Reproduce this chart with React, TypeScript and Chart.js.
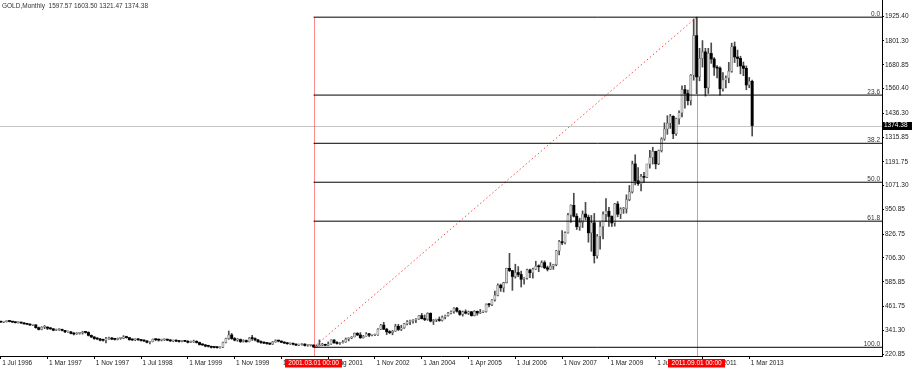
import React, { useEffect, useRef } from 'react';
import { Chart, registerables } from 'chart.js';

Chart.register(...registerables);

const symbolTitle = 'GOLD,Monthly  1597.57 1603.50 1321.47 1374.38';

// Bar 0 = Jul 1996. The history before Mar 2001 holds about two bars per month.
const firstOpen = 384;

const closes = [
  383, 385, 387, 386, 383, 380, 381, 378, 374, 372,
  368, 369, 355, 346, 357, 358, 352, 349, 342, 345,
  346, 341, 334, 334, 326, 323, 326, 328, 333, 331,
  316, 308, 300, 298, 292, 291, 300, 303, 297, 296,
  301, 301, 309, 305, 294, 293, 296, 294, 290, 288,
  281, 284, 296, 294, 292, 293, 295, 292, 288, 289,
  287, 285, 288, 286, 281, 283, 286, 280, 270, 268,
  262, 261, 256, 255, 254, 256, 280, 300, 318, 300,
  292, 295, 285, 290, 284, 302, 300, 293, 284, 280,
  277, 275, 272, 283, 290, 287, 281, 277, 274, 276,
  271, 267, 270, 272, 265, 266, 267,
  257.7, 263.2, 267, 270.6, 265.9, 273, 293, 279, 275, 279,
  282, 297, 302, 308, 326, 318, 304, 312, 324, 317,
  318, 318, 347, 368, 347, 334, 330, 337, 362, 346,
  354, 375, 385, 386, 392, 398, 416, 400, 396, 427,
  388, 394, 395, 391, 408, 416, 428, 436, 453, 438,
  422, 435, 428, 435, 416, 437, 429, 433, 436, 473,
  470, 495, 518, 569, 556, 582, 654, 643, 613, 633,
  623, 599, 604, 646, 632, 650, 665, 662, 683, 657,
  650, 665, 673, 743, 789, 783, 834, 923, 972, 917,
  864, 886, 928, 912, 833, 884, 718, 816, 865, 927,
  942, 916, 883, 979, 927, 954, 955, 1001, 1040, 1181,
  1096, 1081, 1118, 1113, 1180, 1213, 1244, 1181, 1248, 1307,
  1357, 1386, 1421, 1333, 1409, 1439, 1556, 1536, 1500, 1628,
  1828, 1620, 1713, 1746, 1565, 1738, 1710, 1669, 1664, 1560,
  1604, 1614, 1648, 1772, 1720, 1713, 1675, 1663, 1579, 1597.57, 1374.38,
];

const highs = [
  386, 387, 389, 390, 387, 385, 384, 383, 380, 377,
  374, 372, 370, 358, 360, 366, 359, 356, 351, 348,
  350, 348, 342, 338, 335, 330, 330, 331, 337, 336,
  334, 318, 310, 304, 301, 297, 306, 307, 305, 300,
  303, 305, 315, 312, 306, 298, 299, 298, 296, 292,
  290, 286, 298, 300, 298, 297, 299, 297, 295, 292,
  293, 290, 290, 291, 290, 288, 292, 289, 282, 273,
  270, 266, 262, 259, 259, 258, 282, 303, 338, 326,
  305, 300, 298, 294, 293, 305, 316, 304, 296, 288,
  283, 281, 278, 285, 294, 292, 289, 284, 280, 278,
  279, 274, 272, 275, 274, 269, 270,
  269, 268, 293, 276, 272, 283, 294, 294, 285, 281,
  290, 303, 304, 310, 328, 330, 330, 316, 330, 326,
  321, 323, 350, 372, 382, 352, 340, 341, 372, 372,
  367, 377, 391, 393, 396, 401, 417, 427, 419, 430,
  430, 396, 397, 409, 414, 419, 432, 440, 456, 457,
  443, 439, 445, 439, 437, 441, 439, 447, 440, 475,
  478, 497, 540, 576, 575, 584, 655, 730, 644, 675,
  663, 640, 607, 650, 650, 655, 690, 672, 692, 692,
  666, 683, 675, 745, 795, 845, 838, 931, 975, 1033,
  930, 907, 944, 987, 923, 921, 931, 825, 888, 939,
  1006, 962, 919, 982, 991, 960, 961, 1025, 1072, 1195,
  1227, 1162, 1128, 1139, 1180, 1249, 1265, 1245, 1251, 1313,
  1388, 1424, 1431, 1424, 1412, 1448, 1575, 1577, 1553, 1632,
  1912, 1920.94, 1764, 1803, 1764, 1764, 1791, 1717, 1677, 1670,
  1641, 1625, 1693, 1790, 1796, 1755, 1724, 1695, 1675, 1617, 1603.5,
];

const lows = [
  381, 380, 383, 384, 381, 378, 378, 376, 372, 370,
  366, 365, 352, 343, 344, 350, 345, 346, 339, 340,
  341, 339, 330, 331, 323, 318, 321, 322, 322, 327,
  313, 305, 296, 294, 288, 287, 278, 295, 294, 292,
  293, 296, 300, 302, 292, 290, 289, 290, 287, 284,
  278, 273, 283, 289, 287, 288, 290, 289, 285, 284,
  284, 282, 283, 284, 278, 279, 280, 277, 267, 265,
  258, 257, 252, 253, 252, 251, 254, 278, 296, 296,
  288, 286, 280, 282, 281, 283, 291, 288, 280, 276,
  274, 271, 269, 270, 281, 283, 279, 275, 271, 270,
  268, 264, 264, 266, 262, 261, 262,
  256, 255.95, 262, 264, 264, 265, 270, 276, 272, 271,
  277, 281, 288, 299, 308, 315, 301, 302, 312, 310,
  313, 315, 316, 345, 345, 320, 324, 319, 336, 340,
  340, 351, 369, 370, 378, 380, 396, 399, 390, 392,
  384, 371, 385, 387, 388, 399, 413, 424, 428, 433,
  417, 413, 424, 421, 413, 414, 418, 426, 430, 433,
  460, 466, 489, 515, 538, 535, 580, 637, 543, 605,
  612, 560, 574, 600, 607, 604, 648, 637, 660, 652,
  641, 648, 649, 667, 722, 774, 777, 832, 886, 913,
  850, 846, 860, 898, 786, 740, 681, 705, 751, 802,
  890, 866, 865, 867, 914, 905, 931, 933, 995, 1034,
  1075, 1072, 1045, 1088, 1111, 1160, 1180, 1156, 1177, 1241,
  1300, 1330, 1360, 1308, 1324, 1381, 1418, 1462, 1478, 1478,
  1603, 1535, 1600, 1669, 1523, 1536, 1688, 1627, 1614, 1527,
  1548, 1564, 1590, 1643, 1692, 1672, 1635, 1626, 1555, 1565, 1321.47,
];

const timeTickIndex = [0, 16, 32, 48, 64, 80, 96, 112, 128, 144, 160, 176, 192, 208, 224, 240, 256];
const timeTickLabels = [
  '1 Jul 1996', '1 Mar 1997', '1 Nov 1997', '1 Jul 1998', '1 Mar 1999', '1 Nov 1999', '1 Jul 2000',
  '1 Aug 2001', '1 Nov 2002', '1 Jan 2004', '1 Apr 2005', '1 Jul 2006', '1 Nov 2007', '1 Mar 2009',
  '1 Jul 2010', '1 Nov 2011', '1 Mar 2013',
];

const priceTicks = [
  1925.4, 1801.3, 1680.85, 1560.4, 1436.3, 1315.85, 1191.75, 1071.3,
  950.85, 826.75, 706.3, 585.85, 461.75, 341.3, 220.85,
];

const fibRatios = [0, 0.236, 0.382, 0.5, 0.618, 1];
const fibLabels = ['0.0', '23.6', '38.2', '50.0', '61.8', '100.0'];
const fibLowIndex = 107; // 2001.03.01
const fibHighIndex = 238; // 2011.09.01
const fibLow = 255.95;
const fibHigh = 1920.94;

const markerIndex = [107, 238];
const markerLabels = ['2001.03.01 00:00', '2011.09.01 00:00'];

const priceMin = 212.0;
const priceMax = 2007.6;
const indexMin = -0.24;
const indexMax = 301.4;

const FONT = 'Liberation Sans, Arial, sans-serif';

const overlayPlugin = {
  id: 'mtOverlay',
  beforeDatasetsDraw(chart: any) {
    const { ctx, chartArea, scales } = chart;
    const x = scales.x;
    const y = scales.y;
    ctx.save();
    const by = Math.round(y.getPixelForValue(closes[closes.length - 1])) + 0.5;
    ctx.strokeStyle = '#c4c4c4';
    ctx.lineWidth = 1;
    ctx.beginPath();
    ctx.moveTo(chartArea.left, by);
    ctx.lineTo(chartArea.right, by);
    ctx.stroke();
    const topY = y.getPixelForValue(fibHigh);
    ctx.strokeStyle = 'rgba(255,60,60,0.6)';
    markerIndex.forEach((mi) => {
      const px = Math.round(x.getPixelForValue(mi)) + 0.5;
      ctx.beginPath();
      ctx.moveTo(px, topY);
      ctx.lineTo(px, chartArea.bottom);
      ctx.stroke();
    });
    ctx.restore();
  },
  afterDatasetsDraw(chart: any) {
    const { ctx, chartArea, scales } = chart;
    const y = scales.y;
    ctx.save();
    ctx.font = `6.5px ${FONT}`;
    ctx.fillStyle = '#333';
    ctx.textAlign = 'right';
    ctx.textBaseline = 'alphabetic';
    fibRatios.forEach((r, i) => {
      const lv = fibHigh - r * (fibHigh - fibLow);
      const ly = y.getPixelForValue(lv);
      ctx.fillText(fibLabels[i], chartArea.right - 2, ly - 1.5);
    });
    ctx.textAlign = 'left';
    ctx.textBaseline = 'top';
    ctx.fillText(symbolTitle, 2, 3);
    ctx.restore();
  },
  afterDraw(chart: any) {
    const { ctx, chartArea, scales } = chart;
    const x = scales.x;
    const y = scales.y;
    ctx.save();
    ctx.font = `6.5px ${FONT}`;
    markerIndex.forEach((mi, i) => {
      const px = x.getPixelForValue(mi);
      ctx.fillStyle = '#ff0000';
      ctx.fillRect(Math.round(px - 28.5), chartArea.bottom + 3, 57, 8.5);
      ctx.fillStyle = '#ffffff';
      ctx.textAlign = 'center';
      ctx.textBaseline = 'middle';
      ctx.fillText(markerLabels[i], px, chartArea.bottom + 7.5);
    });
    const last = closes[closes.length - 1];
    const by = y.getPixelForValue(last);
    ctx.fillStyle = '#000';
    ctx.fillRect(chartArea.right + 1, Math.round(by - 4), 30, 8);
    ctx.fillStyle = '#fff';
    ctx.textAlign = 'left';
    ctx.textBaseline = 'middle';
    ctx.fillText(last.toFixed(2), chartArea.right + 2, by);
    ctx.restore();
  },
};

export default function App() {
  const ref = useRef<HTMLCanvasElement>(null);

  useEffect(() => {
    document.body.style.margin = '0';
    const canvas = ref.current;
    if (!canvas) return;

    const opens = closes.map((c, i) => (i === 0 ? firstOpen : closes[i - 1]));
    const idx = closes.map((_, i) => i);
    const bull = idx.map((i) => closes[i] >= opens[i]);

    const fibSets = fibRatios.map((r, i) => {
      const lv = fibHigh - r * (fibHigh - fibLow);
      return {
        type: 'line' as const,
        label: 'fib ' + fibLabels[i],
        data: [
          { x: fibLowIndex, y: lv },
          { x: indexMax, y: lv },
        ],
        borderColor: '#000',
        borderWidth: 1,
        pointRadius: 0,
        order: 0,
      };
    });

    const chart = new Chart(canvas, {
      type: 'bar',
      data: {
        datasets: [
          ...fibSets,
          {
            type: 'line',
            label: 'fib base',
            data: [
              { x: fibLowIndex, y: fibLow },
              { x: fibHighIndex, y: fibHigh },
            ],
            borderColor: 'rgba(255,40,40,0.85)',
            borderWidth: 1,
            borderDash: [1.5, 2.5],
            pointRadius: 0,
            order: 0,
          },
          {
            type: 'bar',
            label: 'bodies',
            data: idx.map((i) => ({ x: i, y: [opens[i], closes[i]] })),
            backgroundColor: idx.map((i) => (bull[i] ? '#d2d2d2' : '#000000')),
            borderColor: idx.map((i) => (bull[i] ? '#6e6e6e' : '#000000')),
            borderWidth: idx.map((i) => (bull[i] ? 0.6 : 0)),
            borderSkipped: false,
            barThickness: 2.3,
            minBarLength: 1,
            grouped: false,
            order: 1,
          },
          {
            type: 'bar',
            label: 'wicks',
            data: idx.map((i) => ({ x: i, y: [lows[i], highs[i]] })),
            backgroundColor: '#4a4a4a',
            barThickness: 1,
            grouped: false,
            order: 2,
          },
        ] as any,
      },
      options: {
        animation: false,
        responsive: false,
        devicePixelRatio: 1,
        events: [],
        layout: { padding: 0 },
        plugins: {
          legend: { display: false },
          tooltip: { enabled: false },
          title: { display: false },
        },
        scales: {
          x: {
            type: 'linear',
            position: 'bottom',
            min: indexMin,
            max: indexMax,
            offset: false,
            afterBuildTicks: (s: any) => {
              s.ticks = timeTickIndex.map((v) => ({ value: v }));
            },
            afterFit: (s: any) => {
              s.height = 14;
              s.paddingLeft = 0;
              s.paddingRight = 0;
            },
            ticks: {
              autoSkip: false,
              maxRotation: 0,
              minRotation: 0,
              align: 'start',
              labelOffset: 1.5,
              padding: 0,
              color: '#222',
              font: { family: FONT, size: 6.5 },
              callback: (v: any) => {
                const k = timeTickIndex.indexOf(Number(v));
                return k >= 0 ? timeTickLabels[k] : '';
              },
            },
            grid: { drawOnChartArea: false, drawTicks: true, tickLength: 3, color: '#000', offset: false },
            border: { display: true, color: '#000', width: 1 },
          },
          y: {
            type: 'linear',
            position: 'right',
            min: priceMin,
            max: priceMax,
            beginAtZero: false,
            afterBuildTicks: (s: any) => {
              s.ticks = priceTicks.map((v) => ({ value: v }));
            },
            afterFit: (s: any) => {
              s.width = 30;
              s.paddingTop = 0;
              s.paddingBottom = 0;
            },
            ticks: {
              autoSkip: false,
              padding: 1,
              color: '#222',
              font: { family: FONT, size: 6.5 },
              callback: (v: any) => Number(v).toFixed(2),
            },
            grid: { drawOnChartArea: false, drawTicks: true, tickLength: 2, color: '#000' },
            border: { display: true, color: '#000', width: 1 },
          },
        },
      } as any,
      plugins: [overlayPlugin],
    });

    return () => chart.destroy();
  }, []);

  return (
    <div style={{ position: 'fixed', left: 0, top: 0, width: 912, height: 370, background: '#fff' }}>
      <canvas ref={ref} width={912} height={370} style={{ display: 'block' }} />
    </div>
  );
}
